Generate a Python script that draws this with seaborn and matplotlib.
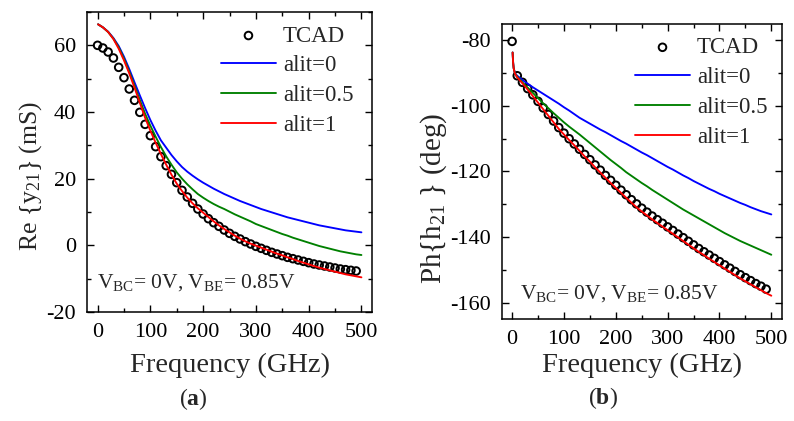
import numpy as np
import pandas as pd
import matplotlib
matplotlib.use("Agg")
import matplotlib.pyplot as plt
from matplotlib.ticker import MultipleLocator
import seaborn as sns

# ---- data ----
# TCAD points every 10 GHz (0..490)
tcad_freq = list(range(0, 500, 10))
tcad_re_y21 = [60.0, 59.2, 58.0, 56.2, 53.4, 50.3, 46.9, 43.5, 39.9, 36.3,
               32.9, 29.6, 26.6, 23.9, 21.3, 18.8, 16.5, 14.5, 12.6, 10.9,
               9.4, 8.0, 6.8, 5.7, 4.6, 3.6, 2.7, 1.9, 1.1, 0.4,
               -0.3, -0.9, -1.5, -2.1, -2.6, -3.1, -3.6, -4.0, -4.4, -4.8,
               -5.2, -5.6, -5.9, -6.2, -6.5, -6.8, -7.1, -7.3, -7.5, -7.7]
tcad_ph_h21 = [-80.3, -90.8, -92.8, -94.7, -96.6, -98.6, -100.6, -102.6, -104.6, -106.6,
               -108.3, -110.0, -111.6, -113.2, -114.8, -116.4, -118.0, -119.6, -121.2, -122.7,
               -124.2, -125.7, -127.1, -128.6, -129.9, -131.2, -132.4, -133.6, -134.7, -135.8,
               -136.9, -138.0, -139.1, -140.2, -141.3, -142.4, -143.5, -144.5, -145.5, -146.5,
               -147.5, -148.5, -149.5, -150.5, -151.5, -152.4, -153.3, -154.2, -155.0, -155.9]

# model curves
line_freq = [1, 5] + list(range(10, 510, 10))
re_alit0 = [66.3, 65.9, 65.4, 64.1, 62.2, 59.8, 56.6, 52.9, 48.9, 45.0, 41.2, 37.6,
            34.4, 31.5, 29.3, 27.1, 25.2, 23.5, 22.1, 20.9, 19.8, 18.8,
            17.9, 17.0, 16.2, 15.4, 14.7, 14.0, 13.3, 12.7, 12.1, 11.5,
            10.9, 10.4, 9.9, 9.4, 8.9, 8.4, 8.0, 7.6, 7.2, 6.8,
            6.4, 6.0, 5.7, 5.4, 5.1, 4.8, 4.5, 4.3, 4.1, 3.9]
re_alit05 = [66.3, 65.9, 65.4, 64.0, 62.0, 59.4, 56.0, 52.1, 47.9, 43.6, 39.5, 35.9,
             32.6, 29.5, 26.7, 24.2, 21.9, 20.0, 18.3, 16.8, 15.4, 14.3,
             13.3, 12.4, 11.6, 10.9, 10.1, 9.3, 8.6, 7.9, 7.2, 6.4,
             5.8, 5.2, 4.6, 4.0, 3.4, 2.9, 2.3, 1.8, 1.3, 0.8,
             0.3, -0.2, -0.6, -1.0, -1.4, -1.8, -2.1, -2.4, -2.7, -2.9]
re_alit1 = [66.3, 65.9, 65.4, 64.0, 61.9, 59.0, 55.5, 51.6, 47.3, 42.8, 38.3, 34.4,
            30.8, 27.4, 24.2, 21.2, 18.5, 16.3, 14.3, 12.6, 11.1, 9.8,
            8.5, 7.2, 6.0, 4.9, 3.9, 2.9, 2.0, 1.2, 0.5, -0.1,
            -0.7, -1.3, -1.9, -2.5, -3.0, -3.6, -4.1, -4.7, -5.2, -5.7,
            -6.2, -6.7, -7.1, -7.5, -7.9, -8.3, -8.7, -9.0, -9.3, -9.6]

ph_freq = [1, 2, 3, 5, 7] + list(range(10, 510, 10))
ph_alit0 = [-83.7, -86.8, -88.4, -89.7, -90.3, -90.8, -92.1, -93.2, -94.3, -95.3,
            -96.3, -97.3, -98.3, -99.3, -100.4, -101.4, -102.5, -103.6, -104.5, -105.4,
            -106.3, -107.2, -108.0, -108.9, -109.8, -110.7, -111.5, -112.4, -113.3, -114.2,
            -115.0, -115.9, -116.8, -117.7, -118.6, -119.4, -120.3, -121.2, -122.0, -122.9,
            -123.7, -124.5, -125.3, -126.0, -126.8, -127.5, -128.2, -128.9, -129.6, -130.2,
            -130.9, -131.5, -132.1, -132.6, -133.1]
ph_alit05 = [-83.7, -86.8, -88.4, -89.8, -90.5, -91.1, -92.8, -94.4, -96.0, -97.6,
             -99.2, -100.7, -102.2, -103.6, -105.0, -106.3, -107.5, -108.7, -110.0, -111.3,
             -112.6, -113.9, -115.2, -116.5, -117.7, -118.9, -120.2, -121.3, -122.4, -123.5,
             -124.5, -125.6, -126.6, -127.6, -128.6, -129.6, -130.6, -131.6, -132.5, -133.4,
             -134.3, -135.2, -136.1, -137.0, -137.9, -138.8, -139.6, -140.4, -141.2, -141.9,
             -142.6, -143.3, -144.0, -144.7, -145.4]
ph_alit1 = [-83.7, -86.9, -88.5, -89.9, -90.6, -91.3, -93.1, -95.0, -97.0, -99.0,
            -101.0, -103.0, -105.0, -107.0, -108.7, -110.4, -112.0, -113.7, -115.4, -117.0,
            -118.7, -120.3, -121.9, -123.5, -125.0, -126.5, -128.0, -129.5, -130.9, -132.2,
            -133.4, -134.6, -135.7, -136.8, -137.9, -139.0, -140.1, -141.2, -142.3, -143.4,
            -144.5, -145.5, -146.6, -147.6, -148.6, -149.6, -150.6, -151.6, -152.6, -153.5,
            -154.4, -155.3, -156.2, -157.1, -157.9]

alit_labels = ["alit=0", "alit=0.5", "alit=1"]
alit_colors = ["#0000ff", "#008000", "#ff0000"]

sns.set_theme(style="ticks")
plt.rcParams["font.family"] = ["Liberation Serif", "DejaVu Serif"]
plt.rcParams["mathtext.fontset"] = "custom"
plt.rcParams["mathtext.rm"] = "Liberation Serif"
plt.rcParams["mathtext.it"] = "Liberation Serif:italic"
plt.rcParams["mathtext.bf"] = "Liberation Serif:bold"
plt.rcParams["axes.unicode_minus"] = False
plt.rcParams["axes.edgecolor"] = "black"
plt.rcParams["axes.linewidth"] = 1.1

fig = plt.figure(figsize=(7.94, 4.21), dpi=100)
ax1 = fig.add_axes([0.1096, 0.2589, 0.3589, 0.7126])
ax2 = fig.add_axes([0.6319, 0.2423, 0.3526, 0.7007])


def draw_panel(ax, tcad_y, lf, curves, ylim, leg_anchor, xpad):
    sns.scatterplot(x=tcad_freq, y=tcad_y, ax=ax, marker="o", s=30,
                    facecolor="none", edgecolor="black", linewidth=1.4,
                    label="TCAD", zorder=2)
    for vals, lab, col in zip(curves, alit_labels, alit_colors):
        sns.lineplot(x=lf, y=vals, ax=ax, color=col, linewidth=1.35,
                     label=lab, zorder=3)
    ax.set_xlim(-20, 520)
    ax.set_ylim(*ylim)
    ax.xaxis.set_major_locator(MultipleLocator(100))
    ax.xaxis.set_minor_locator(MultipleLocator(50))
    ax.yaxis.set_major_locator(MultipleLocator(20))
    ax.yaxis.set_minor_locator(MultipleLocator(10))
    ax.tick_params(which="both", direction="in", top=True, right=True,
                   width=1.0, colors="black", labelsize=16, pad=8)
    ax.tick_params(which="major", length=5)
    ax.tick_params(which="minor", length=3)
    ax.set_xlabel("Frequency (GHz)", fontsize=20.5, labelpad=xpad)
    for s in ax.spines.values():
        s.set_visible(True)
        s.set_color("black")
    ax.legend(loc="upper left", bbox_to_anchor=leg_anchor, frameon=False,
              fontsize=16.5, handlelength=2.4, handletextpad=0.3,
              labelspacing=0.38, borderpad=0, borderaxespad=0)


draw_panel(ax1, tcad_re_y21, line_freq, [re_alit0, re_alit05, re_alit1],
           (-20, 70), (0.47, 0.955), 8)
draw_panel(ax2, tcad_ph_h21, ph_freq, [ph_alit0, ph_alit05, ph_alit1],
           (-165, -75), (0.476, 0.955), 3)

ax1.set_ylabel(r"Re {y$_{\mathregular{21}}$} (mS)", fontsize=18.5)
ax2.set_ylabel(r"Ph{h$_{\mathregular{21}}$ } (deg)", fontsize=21)
ax1.yaxis.set_label_coords(-0.15, 0.453)
ax2.yaxis.set_label_coords(-0.19, 0.41)

ax1.text(0.035, 0.08, r"V$_{\mathregular{BC}}$= 0V, V$_{\mathregular{BE}}$= 0.85V",
         transform=ax1.transAxes, fontsize=15.5)
ax2.text(0.065, 0.07, r"V$_{\mathregular{BC}}$= 0V, V$_{\mathregular{BE}}$= 0.85V",
         transform=ax2.transAxes, fontsize=15.5)

fig.text(0.243, 0.052, r"($\mathbf{a}$)", ha="center", va="center", fontsize=17)
fig.text(0.76, 0.054, r"($\mathbf{b}$)", ha="center", va="center", fontsize=17)

fig.savefig("out.png", dpi=100)
